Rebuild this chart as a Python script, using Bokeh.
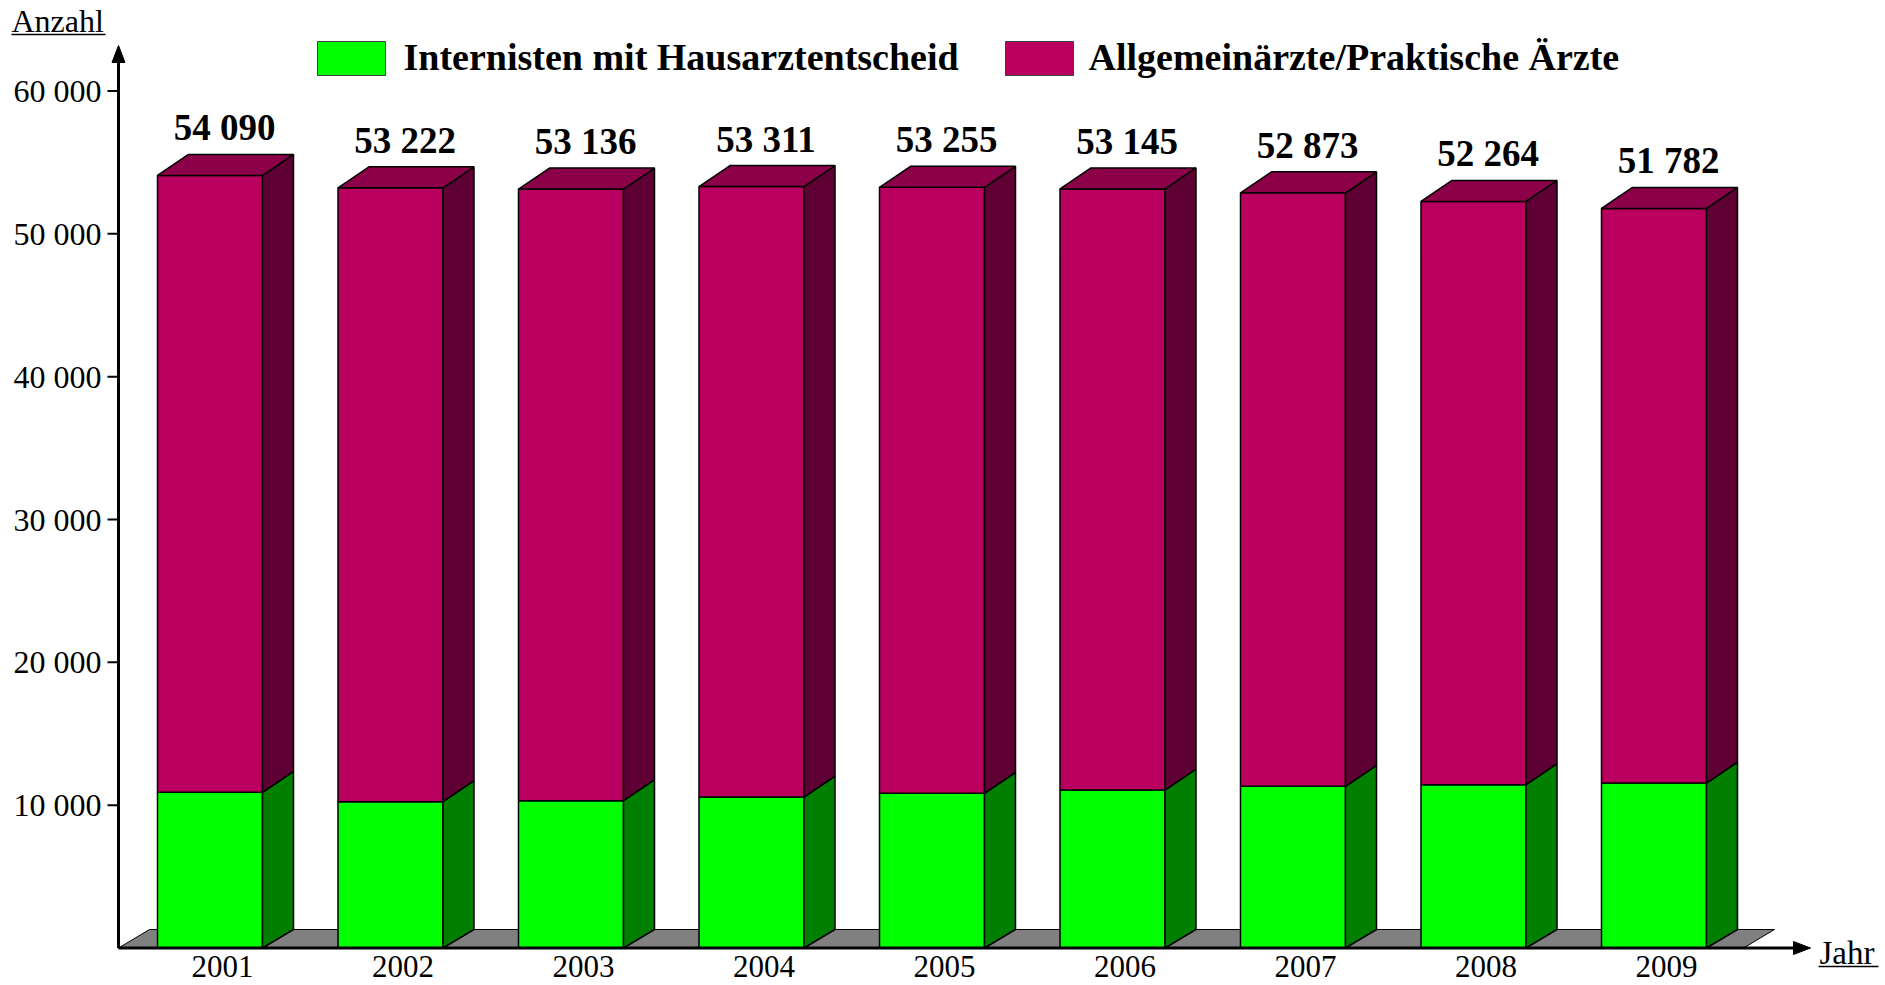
from bokeh.plotting import figure
from bokeh.models import Range1d
from bokeh.core.properties import value
from bokeh.embed import file_html
from bokeh.resources import INLINE

# ---------------- data ----------------
years = ["2001", "2002", "2003", "2004", "2005", "2006", "2007", "2008", "2009"]
internisten = [10900, 10240, 10310, 10570, 10830, 11060, 11320, 11430, 11550]
totals = [54090, 53222, 53136, 53311, 53255, 53145, 52873, 52264, 51782]
allgemein = [t - g for t, g in zip(totals, internisten)]
total_labels = ["54 090", "53 222", "53 136", "53 311", "53 255", "53 145", "52 873", "52 264", "51 782"]
y_ticks = [10000, 20000, 30000, 40000, 50000, 60000]
y_tick_labels = ["10 000", "20 000", "30 000", "40 000", "50 000", "60 000"]
series_names = ["Internisten mit Hausarztentscheid", "Allgemeinärzte/Praktische Ärzte"]
y_title = "Anzahl"
x_title = "Jahr"

# ---------------- styles / geometry ----------------
W, H = 1885, 985
X0_PX, STEP_PX = 222.0, 180.5       # pixel of first category centre, category step
Y0_PX, Y_PER_PX = 947.5, 60000.0 / 857.0   # pixel of value 0, data units per pixel

def X(px):   # absolute pixel -> data x
    return (px - X0_PX) / STEP_PX

def Y(px):   # absolute pixel -> data y
    return (Y0_PX - px) * Y_PER_PX

def DX(px):
    return px / STEP_PX

def DY(px):
    return px * Y_PER_PX

GREEN, GREEN_SIDE = "#00FF00", "#007F00"
MAG, MAG_SIDE, MAG_TOP = "#BA005E", "#5E0033", "#8B0048"
FLOOR = "#808080"
FONT = "Liberation Serif"

p = figure(width=W, height=H, x_range=Range1d(X(0), X(W)), y_range=Range1d(Y(H), Y(0)),
           output_backend="svg", toolbar_location=None,
           x_axis_location=None, y_axis_location=None, min_border=0,
           outline_line_color=None, background_fill_color="white", border_fill_color="white")
p.xgrid.visible = False
p.ygrid.visible = False

axis_x = X(118)
dx = DX(31)
dy_top = DY(21)
dy_bot = DY(18.5)
front_l = DX(65)
front_r = DX(40)

# floor
floor_end = X(1743)
p.patch([axis_x, axis_x + dx, floor_end + dx, floor_end], [0, dy_bot, dy_bot, 0],
        fill_color=FLOOR, line_color="black", line_width=1)

xs = list(range(len(years)))
left = [i - front_l for i in xs]
right = [i + front_r for i in xs]

# green front
p.quad(left=left, right=right, bottom=[0] * len(xs), top=internisten,
       fill_color=GREEN, line_color="black", line_width=1.5)
# green side
p.patches([[r, r + dx, r + dx, r] for r in right],
          [[0, dy_bot, g + dy_top, g] for g in internisten],
          fill_color=GREEN_SIDE, line_color="black", line_width=1.5)
# magenta front
p.quad(left=left, right=right, bottom=internisten, top=totals,
       fill_color=MAG, line_color="black", line_width=1.5)
# magenta side
p.patches([[r, r + dx, r + dx, r] for r in right],
          [[g, g + dy_top, t + dy_top, t] for g, t in zip(internisten, totals)],
          fill_color=MAG_SIDE, line_color="black", line_width=1.5)
# top face
p.patches([[l, l + dx, r + dx, r] for l, r in zip(left, right)],
          [[t, t + dy_top, t + dy_top, t] for t in totals],
          fill_color=MAG_TOP, line_color="black", line_width=1.5)

# value labels
p.text(x=[i + DX(2) for i in xs], y=[t + dy_top + DY(26.5) for t in totals], text=total_labels,
       text_font=value(FONT), text_font_style="bold", text_font_size="37px",
       text_align="center", text_baseline="middle", text_color="black")

# axes lines with arrows
p.segment(x0=[axis_x], y0=[0], x1=[axis_x], y1=[Y(60)], line_color="black", line_width=3)
p.patch([axis_x - DX(6.5), axis_x, axis_x + DX(6.5)], [Y(62), Y(45), Y(62)],
        fill_color="black", line_color="black", line_width=1)
p.segment(x0=[axis_x], y0=[0], x1=[X(1795)], y1=[0], line_color="black", line_width=3)
p.patch([X(1793), X(1810), X(1793)], [DY(6.5), 0, -DY(6.5)],
        fill_color="black", line_color="black", line_width=1)

# y ticks and labels
p.segment(x0=[X(107)] * len(y_ticks), y0=y_ticks, x1=[axis_x] * len(y_ticks), y1=y_ticks,
          line_color="black", line_width=2)
p.text(x=[X(101)] * len(y_ticks), y=y_ticks, text=y_tick_labels,
       text_font=value(FONT), text_font_size="32px", text_align="right",
       text_baseline="middle", text_color="black")

# x category labels
p.text(x=xs, y=[Y(966)] * len(xs), text=years,
       text_font=value(FONT), text_font_size="31px", text_align="center",
       text_baseline="middle", text_color="black")

# axis titles (underlined)
p.text(x=[X(11)], y=[Y(20)], text=[y_title], text_font=value(FONT), text_font_size="32px",
       text_align="left", text_baseline="middle", text_color="black")
p.segment(x0=[X(11)], y0=[Y(34)], x1=[X(105)], y1=[Y(34)], line_color="black", line_width=1.5)
p.text(x=[X(1819)], y=[Y(952)], text=[x_title], text_font=value(FONT), text_font_size="33px",
       text_align="left", text_baseline="middle", text_color="black")
p.segment(x0=[X(1818)], y0=[Y(966)], x1=[X(1878)], y1=[Y(966)], line_color="black", line_width=1.5)

# legend
leg_boxes_l = [X(317), X(1005)]
leg_boxes_r = [X(385), X(1073)]
p.quad(left=leg_boxes_l, right=leg_boxes_r, bottom=[Y(75)] * 2, top=[Y(41)] * 2,
       fill_color=[GREEN, MAG], line_color="#404040", line_width=1)
p.text(x=[X(403), X(1088)], y=[Y(56)] * 2, text=series_names,
       text_font=value(FONT), text_font_style="bold", text_font_size="38px",
       text_align="left", text_baseline="middle", text_color="black")

open("out.html", "w").write(file_html(p, INLINE))
